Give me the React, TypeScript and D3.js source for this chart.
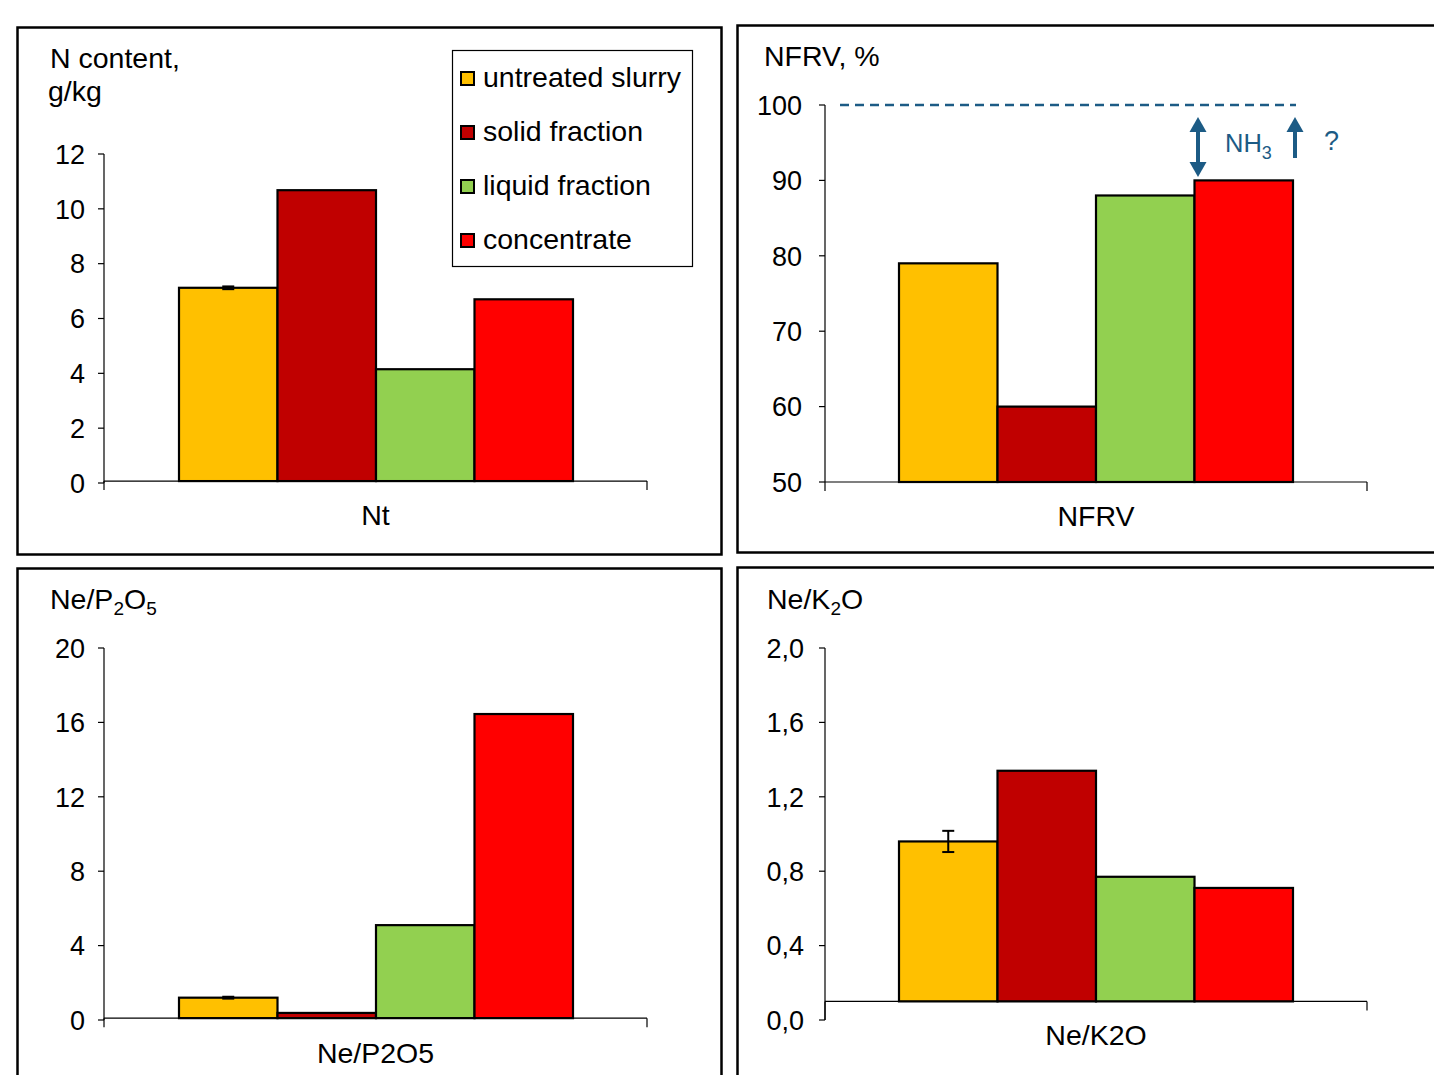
import React from "react";
import * as d3 from "d3";

const series = ["untreated slurry", "solid fraction", "liquid fraction", "concentrate"];
const colors = ["#FFC000", "#C00000", "#92D050", "#FF0000"];

const ntValues = [7.12, 10.68, 4.15, 6.7];
const ntErrors = [0.05, 0, 0, 0];
const ntTicks = [0, 2, 4, 6, 8, 10, 12];
const ntTickLabels = ["0", "2", "4", "6", "8", "10", "12"];

const nfrvValues = [79, 60, 88, 90];
const nfrvErrors = [0, 0, 0, 0];
const nfrvTicks = [50, 60, 70, 80, 90, 100];
const nfrvTickLabels = ["50", "60", "70", "80", "90", "100"];

const p2o5Values = [1.2, 0.38, 5.1, 16.45];
const p2o5Errors = [0.05, 0, 0, 0];
const p2o5Ticks = [0, 4, 8, 12, 16, 20];
const p2o5TickLabels = ["0", "4", "8", "12", "16", "20"];

const k2oValues = [0.96, 1.34, 0.77, 0.71];
const k2oErrors = [0.057, 0, 0, 0];
const k2oTicks = [0, 0.4, 0.8, 1.2, 1.6, 2.0];
const k2oTickLabels = ["0,0", "0,4", "0,8", "1,2", "1,6", "2,0"];

const FONT = "'Liberation Sans', Arial, sans-serif";
const BLUE = "#1c5b85";

type PanelProps = {
  axisX: number;
  axisXEnd: number;
  barStart: number;
  barEnd: number;
  yBottom: number;
  yTop: number;
  domain: [number, number];
  cross: number;
  values: number[];
  errors: number[];
  ticks: number[];
  tickLabels: string[];
  category: string;
  categoryY: number;
  labelGap: number;
};

function Panel(p: PanelProps) {
  const y = d3.scaleLinear().domain(p.domain).range([p.yBottom, p.yTop]);
  const x = d3.scaleBand<string>().domain(series).range([p.barStart, p.barEnd]).paddingInner(0);
  const yc = y(p.cross);
  const catX = (p.axisX + p.axisXEnd) / 2;
  return (
    <g>
      <line x1={p.axisX} x2={p.axisX} y1={y(p.domain[1])} y2={p.yBottom} stroke="#000" strokeWidth={1.2} />
      {p.ticks.map((t, i) => (
        <g key={i}>
          <line x1={p.axisX - 6} x2={p.axisX} y1={y(t)} y2={y(t)} stroke="#000" strokeWidth={1.2} />
          <text x={p.axisX - p.labelGap} y={y(t)} dy="0.36em" textAnchor="end" fontSize={27} fontFamily={FONT} fill="#000">
            {p.tickLabels[i]}
          </text>
        </g>
      ))}
      {series.map((s, i) => (
        <rect
          key={s}
          x={x(s)}
          y={y(p.values[i])}
          width={x.bandwidth()}
          height={yc - y(p.values[i])}
          fill={colors[i]}
          stroke="#000"
          strokeWidth={2.2}
        />
      ))}
      {series.map((s, i) =>
        p.errors[i] > 0 ? (
          <g key={"e" + s} stroke="#000" strokeWidth={2}>
            <line
              x1={(x(s) as number) + x.bandwidth() / 2}
              x2={(x(s) as number) + x.bandwidth() / 2}
              y1={y(p.values[i] + p.errors[i])}
              y2={y(p.values[i] - p.errors[i])}
            />
            <line
              x1={(x(s) as number) + x.bandwidth() / 2 - 6}
              x2={(x(s) as number) + x.bandwidth() / 2 + 6}
              y1={y(p.values[i] + p.errors[i])}
              y2={y(p.values[i] + p.errors[i])}
            />
            <line
              x1={(x(s) as number) + x.bandwidth() / 2 - 6}
              x2={(x(s) as number) + x.bandwidth() / 2 + 6}
              y1={y(p.values[i] - p.errors[i])}
              y2={y(p.values[i] - p.errors[i])}
            />
          </g>
        ) : null
      )}
      <line x1={p.axisX} x2={p.axisXEnd} y1={yc} y2={yc} stroke="#000" strokeWidth={1.2} />
      <line x1={p.axisX} x2={p.axisX} y1={yc} y2={Math.max(yc + 9, p.yBottom)} stroke="#000" strokeWidth={1.2} />
      <line x1={p.axisXEnd} x2={p.axisXEnd} y1={yc} y2={yc + 9} stroke="#000" strokeWidth={1.2} />
      <text x={catX} y={p.categoryY} textAnchor="middle" fontSize={28.5} fontFamily={FONT} fill="#000">
        {p.category}
      </text>
    </g>
  );
}

function Arrow({ x, yTip, yEnd, double }: { x: number; yTip: number; yEnd: number; double?: boolean }) {
  const hw = 8.5;
  const hl = 15;
  return (
    <g fill={BLUE} stroke="none">
      <line x1={x} x2={x} y1={yTip + hl - 2} y2={double ? yEnd - hl + 2 : yEnd} stroke={BLUE} strokeWidth={4} />
      <path d={`M${x},${yTip} L${x + hw},${yTip + hl} L${x - hw},${yTip + hl} Z`} />
      {double ? <path d={`M${x},${yEnd} L${x + hw},${yEnd - hl} L${x - hw},${yEnd - hl} Z`} /> : null}
    </g>
  );
}

export default function App() {
  const nfrvY = d3.scaleLinear().domain([50, 100]).range([482, 105]);
  return (
    <svg
      width={1434}
      height={1075}
      style={{ position: "absolute", left: 0, top: 0, background: "#fff" }}
      fontFamily={FONT}
    >
      <rect x={0} y={0} width={1434} height={1075} fill="#fff" />
      <rect x={17.5} y={27.5} width={704} height={527} fill="none" stroke="#000" strokeWidth={2.5} />
      <rect x={737.5} y={25.5} width={710} height={527} fill="none" stroke="#000" strokeWidth={2.5} />
      <rect x={17.5} y={568.5} width={704} height={530} fill="none" stroke="#000" strokeWidth={2.5} />
      <rect x={737.5} y={567.5} width={710} height={530} fill="none" stroke="#000" strokeWidth={2.5} />

      <text x={50} y={68} fontSize={28.5} fill="#000">N content,</text>
      <text x={48} y={101} fontSize={28.5} fill="#000">g/kg</text>
      <Panel
        axisX={104}
        axisXEnd={647}
        barStart={179}
        barEnd={573}
        yBottom={483}
        yTop={154}
        domain={[0, 12]}
        cross={0.07}
        values={ntValues}
        errors={ntErrors}
        ticks={ntTicks}
        tickLabels={ntTickLabels}
        category="Nt"
        categoryY={525}
        labelGap={19}
      />
      <rect x={452.5} y={50.5} width={240} height={216} fill="#fff" stroke="#000" strokeWidth={1.2} />
      {series.map((s, i) => (
        <g key={s}>
          <rect x={461} y={72 + i * 54} width={13} height={13} fill={colors[i]} stroke="#000" strokeWidth={2} />
          <text x={483} y={87 + i * 54} fontSize={28.5} fill="#000">{s}</text>
        </g>
      ))}

      <text x={764} y={66} fontSize={28.5} fill="#000">NFRV, %</text>
      <Panel
        axisX={825}
        axisXEnd={1367}
        barStart={899}
        barEnd={1293}
        yBottom={482}
        yTop={105}
        domain={[50, 100]}
        cross={50}
        values={nfrvValues}
        errors={nfrvErrors}
        ticks={nfrvTicks}
        tickLabels={nfrvTickLabels}
        category="NFRV"
        categoryY={526}
        labelGap={23}
      />
      <line x1={840} x2={1296} y1={nfrvY(100)} y2={nfrvY(100)} stroke={BLUE} strokeWidth={2.5} strokeDasharray="9,6" />
      <Arrow x={1198} yTip={117} yEnd={177} double />
      <Arrow x={1295} yTip={117} yEnd={158} />
      <text x={1225} y={152} fontSize={25.5} fill={BLUE}>
        NH<tspan fontSize={18} dy={7}>3</tspan>
      </text>
      <text x={1324} y={150} fontSize={27} fill={BLUE}>?</text>

      <text x={50} y={609} fontSize={28.5} fill="#000">
        Ne/P<tspan fontSize={19} dy={6}>2</tspan><tspan dy={-6}>O</tspan><tspan fontSize={19} dy={6}>5</tspan>
      </text>
      <Panel
        axisX={104}
        axisXEnd={647}
        barStart={179}
        barEnd={573}
        yBottom={1020}
        yTop={648}
        domain={[0, 20]}
        cross={0.1}
        values={p2o5Values}
        errors={p2o5Errors}
        ticks={p2o5Ticks}
        tickLabels={p2o5TickLabels}
        category="Ne/P2O5"
        categoryY={1063}
        labelGap={19}
      />

      <text x={767} y={609} fontSize={28.5} fill="#000">
        Ne/K<tspan fontSize={19} dy={6}>2</tspan><tspan dy={-6}>O</tspan>
      </text>
      <Panel
        axisX={825}
        axisXEnd={1367}
        barStart={899}
        barEnd={1293}
        yBottom={1020}
        yTop={648}
        domain={[0, 2]}
        cross={0.1}
        values={k2oValues}
        errors={k2oErrors}
        ticks={k2oTicks}
        tickLabels={k2oTickLabels}
        category="Ne/K2O"
        categoryY={1045}
        labelGap={21}
      />
    </svg>
  );
}
